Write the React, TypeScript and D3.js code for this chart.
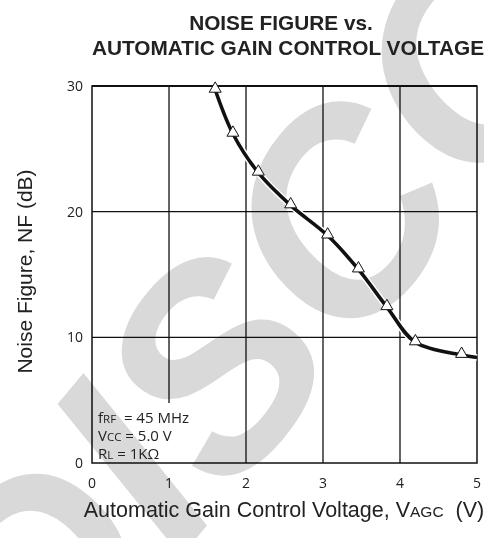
import React, { useRef, useEffect } from "react";
import * as d3 from "d3";

// values
const agcVolts = [1.6, 1.83, 2.16, 2.58, 3.06, 3.46, 3.83, 4.2, 4.8];
const noiseFigure = [29.7, 26.2, 23.1, 20.5, 18.1, 15.4, 12.4, 9.6, 8.6];
// the trace runs on to the right edge
const traceVolts = [...agcVolts, 5.0];
const traceNoise = [...noiseFigure, 8.4];

const xTicks = [0, 1, 2, 3, 4, 5];
const yTicks = [0, 10, 20, 30];

const titleLines = ["NOISE FIGURE vs.", "AUTOMATIC GAIN CONTROL VOLTAGE"];

const width = 484;
const height = 538;
const margin = { top: 86, right: 7, bottom: 75, left: 92 };

const tickFont = "'Open Sans', 'Noto Sans', sans-serif";
const labelFont = "'Liberation Sans', Arial, sans-serif";

const App: React.FC = () => {
  const gRef = useRef<SVGGElement | null>(null);

  useEffect(() => {
    if (!gRef.current) return;
    const g = d3.select(gRef.current);
    g.selectAll("*").remove();

    const innerWidth = width - margin.left - margin.right;
    const innerHeight = height - margin.top - margin.bottom;

    const x = d3.scaleLinear().domain([0, 5]).range([margin.left, margin.left + innerWidth]);
    const y = d3.scaleLinear().domain([0, 30]).range([margin.top + innerHeight, margin.top]);

    const noteHeight = 60;

    // white patch behind the conditions note
    g.append("rect")
      .attr("x", x(0) + 1)
      .attr("y", y(0) - noteHeight)
      .attr("width", 110)
      .attr("height", noteHeight - 1)
      .attr("fill", "#fff");

    // grid
    const grid = g.append("g").attr("stroke", "#111").attr("stroke-width", 1.3);
    grid
      .selectAll("line.vx")
      .data(xTicks.slice(1, -1))
      .join("line")
      .attr("x1", (d) => x(d))
      .attr("x2", (d) => x(d))
      .attr("y1", y(30))
      .attr("y2", (d) => (d === 1 ? y(0) - noteHeight : y(0)));
    grid
      .selectAll("line.hy")
      .data(yTicks.slice(1, -1))
      .join("line")
      .attr("x1", x(0))
      .attr("x2", x(5))
      .attr("y1", (d) => y(d))
      .attr("y2", (d) => y(d));

    // frame
    g.append("rect")
      .attr("x", x(0))
      .attr("y", y(30))
      .attr("width", innerWidth)
      .attr("height", innerHeight)
      .attr("fill", "none")
      .attr("stroke", "#111")
      .attr("stroke-width", 1.5);
    g.append("line")
      .attr("x1", x(0))
      .attr("x2", x(5))
      .attr("y1", y(30))
      .attr("y2", y(30))
      .attr("stroke", "#111")
      .attr("stroke-width", 2.2);

    // watermark
    g.append("text")
      .attr("transform", "translate(48,715) rotate(-50)")
      .attr("font-family", labelFont)
      .attr("font-weight", "bold")
      .attr("font-style", "italic")
      .attr("font-size", 280)
      .attr("fill", "#d9d9d9")
      .style("mix-blend-mode", "multiply")
      .text("DISCONTINUED");

    // trace
    const line = d3
      .line<number>()
      .x((d) => x(d))
      .y((_, i) => y(traceNoise[i]))
      .curve(d3.curveCatmullRom.alpha(0.5));

    g.append("path")
      .attr("d", line(traceVolts))
      .attr("fill", "none")
      .attr("stroke", "#fff")
      .attr("stroke-width", 6.5);
    g.append("path")
      .attr("d", line(traceVolts))
      .attr("fill", "none")
      .attr("stroke", "#111")
      .attr("stroke-width", 3.6)
      .attr("stroke-linejoin", "round");

    const tri = d3.symbol().type(d3.symbolTriangle).size(62);
    g.selectAll("path.marker")
      .data(agcVolts)
      .join("path")
      .attr("class", "marker")
      .attr("d", tri)
      .attr("transform", (d, i) => `translate(${x(d)},${y(noiseFigure[i]) - 1})`)
      .attr("fill", "#fff")
      .attr("stroke", "#111")
      .attr("stroke-width", 1);

    // tick labels
    g.selectAll("text.ytick")
      .data(yTicks)
      .join("text")
      .attr("class", "ytick")
      .attr("x", x(0) - 9)
      .attr("y", (d) => y(d) + 5)
      .attr("text-anchor", "end")
      .attr("font-family", tickFont)
      .attr("font-size", 14)
      .attr("fill", "#222")
      .text((d) => d);
    g.selectAll("text.xtick")
      .data(xTicks)
      .join("text")
      .attr("class", "xtick")
      .attr("x", (d) => x(d))
      .attr("y", y(0) + 25)
      .attr("text-anchor", "middle")
      .attr("font-family", tickFont)
      .attr("font-size", 14)
      .attr("fill", "#222")
      .text((d) => d);

    // conditions note
    const note = g
      .append("g")
      .attr("font-family", tickFont)
      .attr("font-size", 15)
      .attr("fill", "#222");
    const noteLines: [string, string, string][] = [
      ["f", "RF", "  = 45 MHz"],
      ["V", "CC", " = 5.0 V"],
      ["R", "L", " = 1K\u03A9"],
    ];
    noteLines.forEach(([a, sub, rest], i) => {
      const t = note
        .append("text")
        .attr("x", x(0) + 6)
        .attr("y", y(0) - 40 + i * 18)
        .attr("xml:space", "preserve");
      t.append("tspan").text(a);
      t.append("tspan").attr("font-size", 11.5).text(sub);
      t.append("tspan").text(rest);
    });

    // title
    g.selectAll("text.title")
      .data(titleLines)
      .join("text")
      .attr("class", "title")
      .attr("x", (_, i) => (i === 0 ? 281 : 288))
      .attr("y", (_, i) => 30 + i * 25)
      .attr("text-anchor", "middle")
      .attr("font-family", labelFont)
      .attr("font-weight", "bold")
      .attr("font-size", 20.8)
      .attr("fill", "#222")
      .text((d) => d);

    // axis titles
    const xt = g
      .append("text")
      .attr("x", 284)
      .attr("y", 517)
      .attr("text-anchor", "middle")
      .attr("font-family", labelFont)
      .attr("font-size", 21.5)
      .attr("fill", "#222")
      .attr("xml:space", "preserve");
    xt.append("tspan").text("Automatic Gain Control Voltage, V");
    xt.append("tspan").attr("font-size", 15.5).text("AGC");
    xt.append("tspan").text("  (V)");

    g.append("text")
      .attr("transform", `translate(32,${y(15) - 3}) rotate(-90)`)
      .attr("text-anchor", "middle")
      .attr("font-family", labelFont)
      .attr("font-size", 21)
      .attr("fill", "#222")
      .text("Noise Figure, NF (dB)");
  }, []);

  return (
    <svg
      width={width}
      height={height}
      style={{ position: "absolute", left: 0, top: 0, background: "#fff" }}
    >
      <g ref={gRef} />
    </svg>
  );
};

export default App;
